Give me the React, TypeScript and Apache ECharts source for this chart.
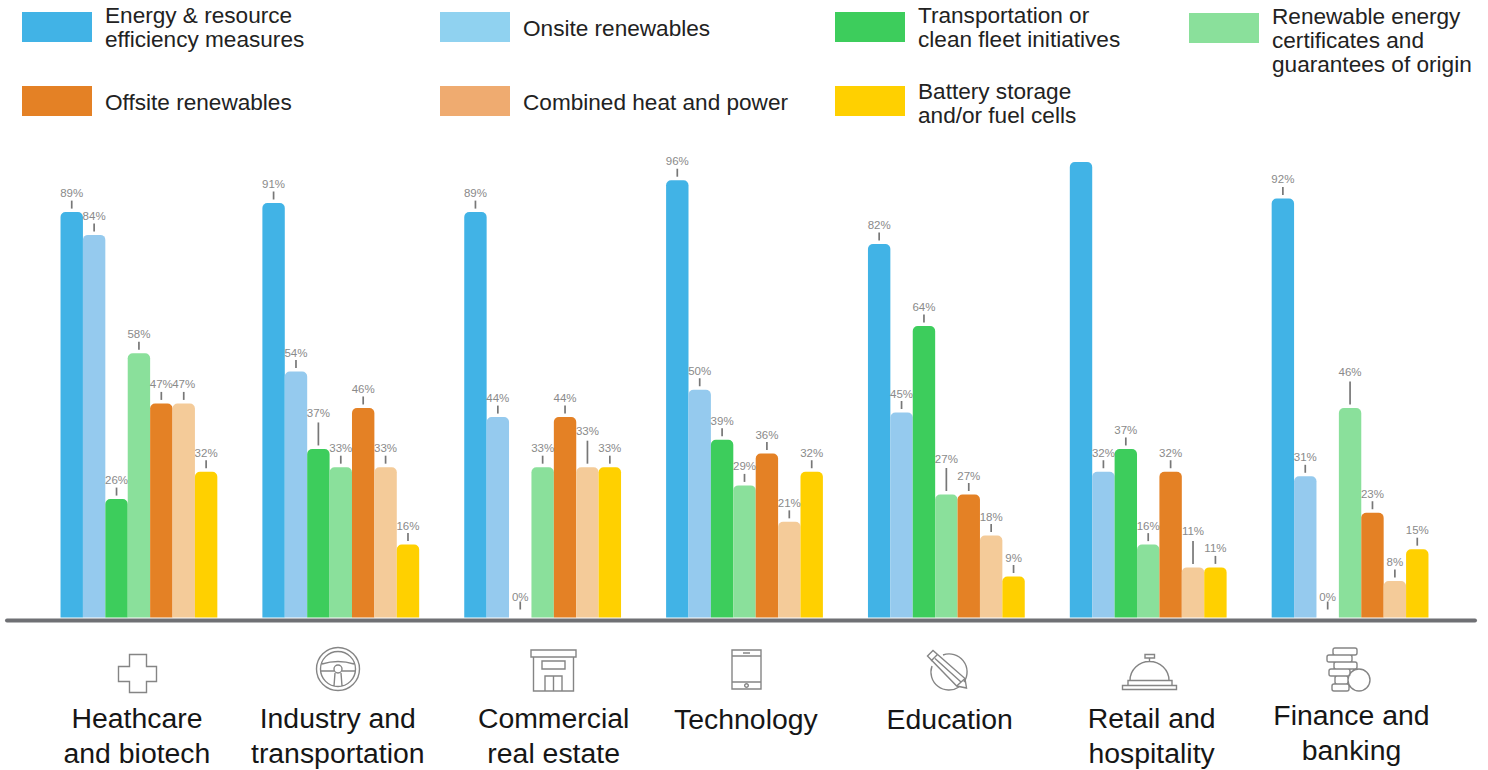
import React, { useEffect, useRef } from "react";
import * as echarts from "echarts";

const categories = [
  "Heathcare\nand biotech",
  "Industry and\ntransportation",
  "Commercial\nreal estate",
  "Technology",
  "Education",
  "Retail and\nhospitality",
  "Finance and\nbanking",
];

const seriesNames = [
  "Energy & resource\nefficiency measures",
  "Onsite renewables",
  "Transportation or\nclean fleet initiatives",
  "Renewable energy\ncertificates and\nguarantees of origin",
  "Offsite renewables",
  "Combined heat and power",
  "Battery storage\nand/or fuel cells",
];

const barColors = ["#41b3e6", "#95caee", "#3dcd5c", "#8ae09b", "#e48125", "#f4cb99", "#ffd000"];
const swatchColors = ["#41b3e6", "#90d2f0", "#3dcd5c", "#8ae09b", "#e48125", "#efab70", "#ffd000"];

const energyEfficiency = [89, 91, 89, 96, 82, 100, 92];
const onsiteRenewables = [84, 54, 44, 50, 45, 32, 31];
const cleanFleet = [26, 37, 0, 39, 64, 37, 0];
const certificates = [58, 33, 33, 29, 27, 16, 46];
const offsiteRenewables = [47, 46, 44, 36, 27, 32, 23];
const combinedHeatPower = [47, 33, 33, 21, 18, 11, 8];
const batteryStorage = [32, 16, 33, 32, 9, 11, 15];

const seriesValues = [
  energyEfficiency,
  onsiteRenewables,
  cleanFleet,
  certificates,
  offsiteRenewables,
  combinedHeatPower,
  batteryStorage,
];

// [category index, series index] pairs whose value label sits on a long leader.
const longLeaders = [[1, 2], [2, 5], [4, 3], [5, 5], [6, 3]];
// The retail efficiency bar reaches the top of the scale and carries no label.
const unlabelled = [[5, 0]];

const has = (list: number[][], c: number, s: number) => list.some((p) => p[0] === c && p[1] === s);

const FONT = '"Liberation Sans", Arial, sans-serif';
const BAR_WIDTH = 22.4;
const ICON_STROKE = "#858585";

const ring = (cx: number, cy: number, r: number) =>
  `M${cx - r} ${cy}A${r} ${r} 0 1 1 ${cx + r} ${cy}A${r} ${r} 0 1 1 ${cx - r} ${cy}Z`;
const box = (x0: number, y0: number, x1: number, y1: number) => `M${x0} ${y0}H${x1}V${y1}H${x0}Z`;
const pill = (x0: number, y0: number, x1: number, y1: number) => {
  const r = 2;
  return `M${x0 + r} ${y0}H${x1 - r}Q${x1} ${y0} ${x1} ${y0 + r}V${y1 - r}Q${x1} ${y1} ${x1 - r} ${y1}H${x0 + r}Q${x0} ${y1} ${x0} ${y1 - r}V${y0 + r}Q${x0} ${y0} ${x0 + r} ${y0}Z`;
};

// Outline pictograms, one under each sector; each path is in its own local space.
const icons: { name: string; x: number; y: number; d: string }[] = [
  { name: "iconCross", x: 118.5, y: 654.5, d: "M11 0H28V12H38V27H28V38H11V27H0V12H11Z" },
  {
    name: "iconWheel",
    x: 316,
    y: 647,
    d:
      ring(22, 22, 21.5) +
      ring(22, 22, 17.5) +
      ring(22, 22, 4) +
      "M6 17Q22 12 38 17M5 24H18M26 24H39M19 26L18 39M25 26L26 39",
  },
  {
    name: "iconStore",
    x: 531,
    y: 650,
    d: box(0, 0, 45, 7) + box(2.5, 7, 42.5, 41) + box(11, 11, 34, 19) + box(14, 26, 31, 41) + "M22.5 26V41",
  },
  {
    name: "iconTablet",
    x: 732,
    y: 650,
    d: box(0, 0, 29, 39) + "M0 6H29M0 32H29M11 3H18" + ring(14.5, 35.5, 1.8),
  },
  {
    name: "iconPencil",
    x: 927,
    y: 650,
    d:
      "M0.5 6L6 0.5L38 28.5L39.5 38L29.7 36Z" +
      "M4 11L10.7 4.3M8 8.5L34 32M29.7 36L38 28.5" +
      "M16 5A18 18 0 0 1 37 32M32 37A18 18 0 0 1 5 16",
  },
  {
    name: "iconBell",
    x: 1122.5,
    y: 654.5,
    d:
      box(0, 31, 54, 35) +
      box(5.5, 26, 49.5, 31) +
      "M7.5 26A19.5 19 0 0 1 46.5 26" +
      "M27 3.5V7" +
      box(22.5, 0, 32, 3.5),
  },
  {
    name: "iconCoins",
    x: 1327,
    y: 648,
    d:
      pill(6, 0, 30, 7) +
      pill(0, 7, 25, 14) +
      pill(7, 14, 30, 21) +
      pill(2, 21, 23, 28) +
      pill(8, 28, 21, 36) +
      pill(5, 36, 22, 43) +
      ring(32, 32, 11),
  },
];

icons.forEach((icon) => {
  echarts.graphic.registerShape(icon.name, echarts.graphic.extendPath(icon.d, {}));
});

// Swatch and text placement for the two legend rows.
const legendSlots = [
  { x: 22, y: 12, textY: 3 },
  { x: 440, y: 12, textY: 16 },
  { x: 835, y: 12, textY: 3 },
  { x: 1189, y: 13, textY: 4 },
  { x: 22, y: 86, textY: 90 },
  { x: 440, y: 86, textY: 90 },
  { x: 835, y: 86, textY: 79 },
];

// Horizontal and vertical nudge of each sector caption away from its slot centre.
const captionShift = [
  [-2, 3.5],
  [-3, 3.5],
  [11, 3.5],
  [1.4, 4.5],
  [3.4, 4.5],
  [3.4, 3.5],
  [1.4, 0.5],
];

function buildOption() {
  const bars = seriesNames.map((name, s) => ({
    type: "bar",
    name,
    barWidth: BAR_WIDTH,
    barGap: 0,
    itemStyle: { color: barColors[s], borderRadius: [5, 5, 0, 0] },
    data: seriesValues[s].map((value, c) => ({
      value,
      label: {
        show: !has(unlabelled, c, s),
        distance: has(longLeaders, c, s) ? 30 : value === 0 ? 15 : 13,
      },
    })),
    label: {
      position: "top",
      formatter: "{c}%",
      color: "#8a8a8a",
      fontFamily: FONT,
      fontSize: 11.5,
    },
  }));

  const leaderData: number[][] = [];
  seriesValues.forEach((values, s) =>
    values.forEach((value, c) => {
      if (!has(unlabelled, c, s)) leaderData.push([c, value, s, has(longLeaders, c, s) ? 23 : 8]);
    }),
  );

  const leaders = {
    type: "custom",
    silent: true,
    z: 3,
    encode: { x: 0, y: 1 },
    data: leaderData,
    renderItem: (_: unknown, api: any) => {
      const s = api.value(2);
      const len = api.value(3);
      const [cx, top] = api.coord([api.value(0), api.value(1)]);
      const x = cx + (s - 3) * BAR_WIDTH;
      const gap = api.value(1) === 0 ? 8 : 3.5;
      return {
        type: "line",
        shape: { x1: x, y1: top - gap, x2: x, y2: top - gap - len },
        style: { stroke: "#777777", lineWidth: 1.7 },
      };
    },
  };

  const graphic: any[] = [
    {
      type: "line",
      z: 10,
      shape: { x1: 7, y1: 620.5, x2: 1475, y2: 620.5 },
      style: { stroke: "#6f7074", lineWidth: 4, lineCap: "round" },
    },
  ];
  seriesNames.forEach((name, s) => {
    const slot = legendSlots[s];
    graphic.push({
      type: "rect",
      shape: { x: slot.x, y: slot.y, width: 70, height: 30 },
      style: { fill: swatchColors[s] },
    });
    graphic.push({
      type: "text",
      x: slot.x + 83,
      y: slot.textY,
      style: {
        text: name,
        fill: "#222222",
        font: `22.6px ${FONT}`,
        lineHeight: 24,
      },
    });
  });
  icons.forEach((icon) => {
    graphic.push({
      type: icon.name,
      x: icon.x,
      y: icon.y,
      style: { fill: "none", stroke: ICON_STROKE, lineWidth: 1.4 },
    });
  });

  return {
    animation: false,
    backgroundColor: "#ffffff",
    grid: { left: 38, top: 162, width: 1413, height: 459, containLabel: false },
    xAxis: {
      type: "category",
      data: categories.map((value, c) => {
        const [dx, dy] = captionShift[c];
        return {
          value,
          textStyle: { padding: [dy, dx < 0 ? -dx * 2 : 0, 0, dx > 0 ? dx * 2 : 0] },
        };
      }),
      axisLine: { show: false },
      axisTick: { show: false },
      axisLabel: {
        interval: 0,
        margin: 79,
        color: "#161616",
        fontFamily: FONT,
        fontSize: 28.4,
        lineHeight: 35,
        verticalAlign: "top",
      },
    },
    yAxis: { type: "value", min: 0, max: 100, show: false },
    series: [...bars, leaders],
    graphic,
  };
}

export default function App() {
  const ref = useRef<HTMLDivElement>(null);

  useEffect(() => {
    document.body.style.margin = "0";
    const chart = echarts.init(ref.current!, undefined, { renderer: "svg" });
    chart.setOption(buildOption() as any);
    return () => chart.dispose();
  }, []);

  return <div ref={ref} style={{ position: "absolute", left: 0, top: 0, width: 1488, height: 770 }} />;
}
